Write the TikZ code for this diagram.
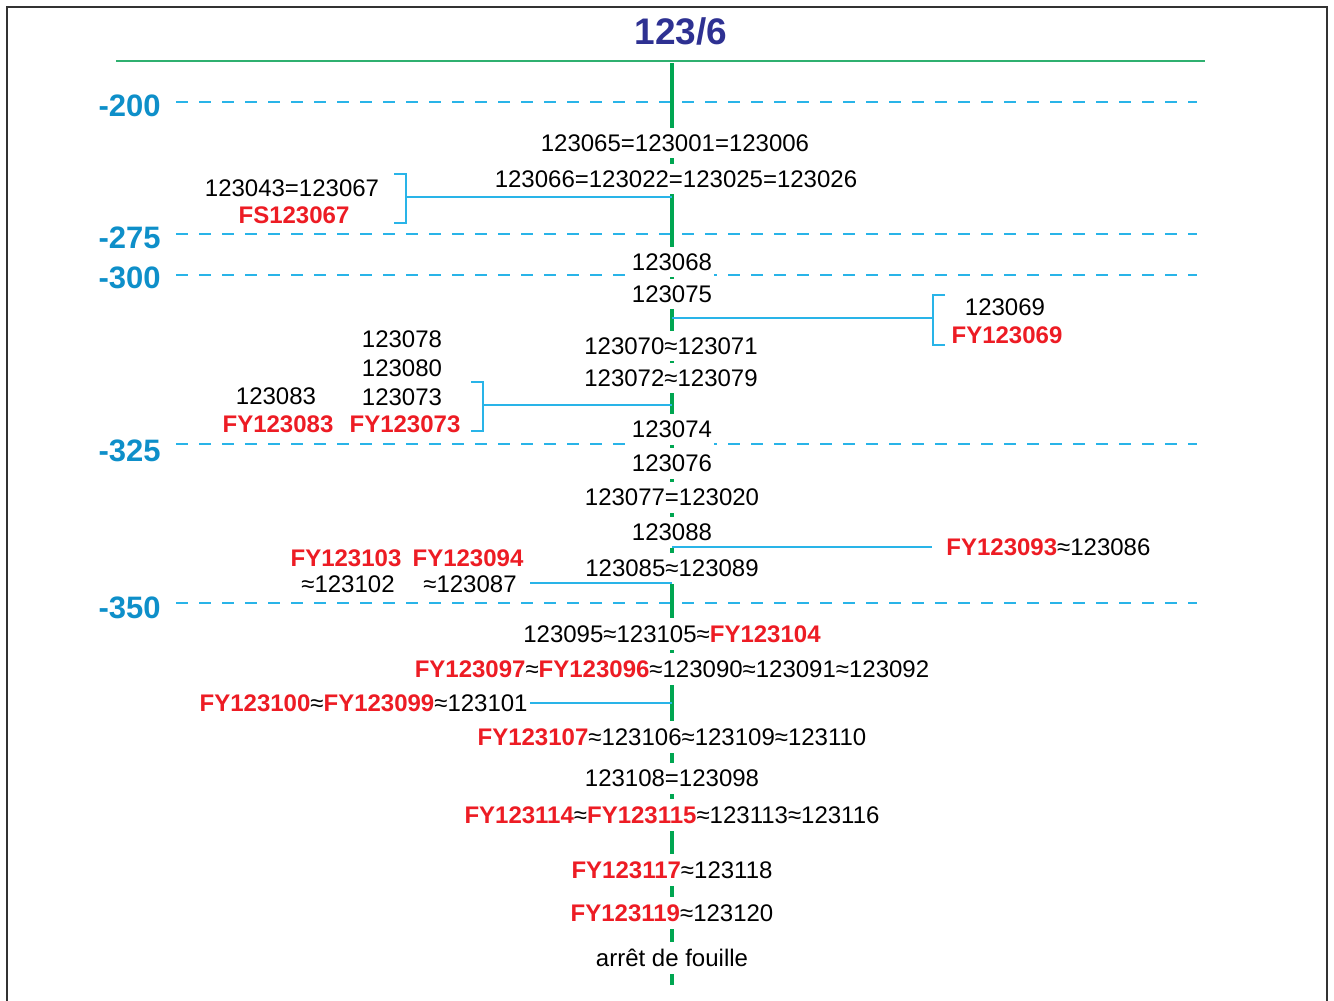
\documentclass[tikz,border=0pt]{standalone}
\usepackage{fontspec}
\setmainfont{Liberation Sans}
\usetikzlibrary{positioning}
\usepackage{xcolor}
\definecolor{titleblue}{HTML}{2E3192}
\definecolor{depthblue}{HTML}{0E8FC9}
\definecolor{lineblue}{HTML}{29B4E8}
\definecolor{axisgreen}{HTML}{00A651}
\definecolor{topgreen}{HTML}{2FB070}
\definecolor{fyred}{HTML}{ED1C24}
\definecolor{framegray}{HTML}{333333}
\newcommand{\fy}[1]{\textcolor{fyred}{\textbf{#1}}}

\begin{document}
\begin{tikzpicture}[x=0.5pt, y=-0.5pt,
		lbl/.style={inner xsep=1pt, inner ysep=3.5pt, fill=white, font=\fontsize{12}{14}\selectfont},
		depthlbl/.style={anchor=east, inner sep=0pt, text=depthblue, font=\fontsize{15.5}{18}\selectfont\bfseries},
		depthline/.style={draw=lineblue, line width=0.6pt, dash pattern=on 6pt off 5.5pt},
		conn/.style={draw=lineblue, line width=0.6pt}]
		\useasboundingbox (0,0) rectangle (1334,1001);
		\draw[line width=1pt, draw=framegray] (7,1001) -- (7,7) -- (1327,7) -- (1327,1001);
		
		\node[font=\fontsize{18.5}{22}\selectfont\bfseries, text=titleblue] (titre) at (681,31) {123/6};
		\draw[draw=topgreen, line width=0.7pt] (116,61) -- (1205,61);
		
		% profondeurs
		\draw[depthline] (176,102) -- (1197,102);
		\draw[depthline] (176,234) -- (1197,234);
		\draw[depthline] (176,275) -- (1197,275);
		\draw[depthline] (176,444) -- (1197,444);
		\draw[depthline] (176,603) -- (1197,603);
		\draw (161,106) node[depthlbl] (d200) {-200}
		(161,238) node[depthlbl] (d275) {-275}
		(161,278) node[depthlbl] (d300) {-300}
		(161,451) node[depthlbl] (d325) {-325}
		(161,608) node[depthlbl] (d350) {-350};
		
		\coordinate (top) at (672,63);
		\coordinate (bot) at (672,985);
		\draw[draw=axisgreen, line width=2pt] (top) -- (bot);
		
		\draw (675,143) node[lbl] (c1) {123065=123001=123006}
		(676,179) node[lbl] (c2) {123066=123022=123025=123026}
		(672,262) node[lbl] (c3) {123068}
		(672,294) node[lbl] (c4) {123075}
		(671,346) node[lbl] (c5) {123070≈123071}
		(671,378) node[lbl] (c6) {123072≈123079}
		(672,429) node[lbl] (c7) {123074}
		(672,463) node[lbl] (c8) {123076}
		(672,497) node[lbl] (c9) {123077=123020}
		(672,532) node[lbl] (c10) {123088}
		(672,568) node[lbl] (c11) {123085≈123089}
		(672,634) node[lbl] (c12) {123095≈123105≈\fy{FY123104}}
		(672,669) node[lbl] (c13) {\fy{FY123097}≈\fy{FY123096}≈123090≈123091≈123092}
		(672,737) node[lbl] (c14) {\fy{FY123107}≈123106≈123109≈123110}
		(672,778) node[lbl] (c15) {123108=123098}
		(672,815) node[lbl] (c16) {\fy{FY123114}≈\fy{FY123115}≈123113≈123116}
		(672,870) node[lbl] (c17) {\fy{FY123117}≈123118}
		(672,913) node[lbl] (c18) {\fy{FY123119}≈123120}
		(672,958) node[lbl] (c19) {arrêt de fouille};
		
		\draw (292,188) node[lbl] (l1) {123043=123067}
		(294,215) node[lbl] (l2) {\fy{FS123067}}
		(1005,307) node[lbl] (r1) {123069}
		(1007,335) node[lbl] (r2) {\fy{FY123069}}
		(402,339) node[lbl] (l3) {123078}
		(402,368) node[lbl] (l4) {123080}
		(402,397) node[lbl] (l5) {123073}
		(405,424) node[lbl] (l6) {\fy{FY123073}}
		(276,396) node[lbl] (l7) {123083}
		(278,424) node[lbl] (l8) {\fy{FY123083}}
		(944,547) node[lbl, anchor=west] (r3) {\fy{FY123093}≈123086}
		(346,558) node[lbl] (l9) {\fy{FY123103}}
		(348,584) node[lbl] (l10) {≈123102}
		(468,558) node[lbl] (l11) {\fy{FY123094}}
		(470,584) node[lbl] (l12) {≈123087}
		(530,703) node[lbl, anchor=east] (l13) {\fy{FY123100}≈\fy{FY123099}≈123101};
		
		% accolades
		\coordinate (k1) at (406,197);
		\coordinate (k2) at (933,318);
		\coordinate (k3) at (483,405);
		\coordinate (k4) at (932,547);
		\coordinate (k5) at (530,583);
		\draw[conn] (394,174) -| (406,223) -- (394,223);
		\draw[conn] (945,295) -| (933,345) -- (945,345);
		\draw[conn] (471,382) -| (483,431) -- (471,431);
		\draw[conn] (k1) -- (k1 -| top);
		\draw[conn] (k2 -| top) -- (k2);
		\draw[conn] (k3) -- (k3 -| top);
		\draw[conn] (k4 -| top) -- (k4);
		\draw[conn] (k5) -- (k5 -| top);
		\draw[conn] (l13.east) -- (l13.east -| top);
	\end{tikzpicture}
\end{document}
